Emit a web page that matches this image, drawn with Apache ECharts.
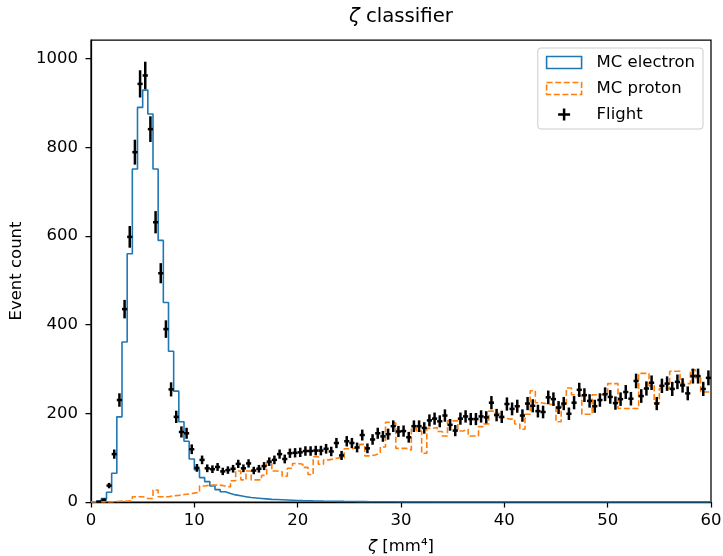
<!DOCTYPE html>
<html>
<head>
<meta charset="utf-8">
<script src="https://cdn.jsdelivr.net/npm/echarts@6/dist/echarts.min.js"></script>
<style>
html,body{margin:0;padding:0;background:#fff;}
#chart{width:723px;height:556px;}
</style>
</head>
<body>
<div id="chart"></div>
<script>
// Histogram binning (bin edges from 0 to 60, width 0.5)
const binStart = 0;
const binWidth = 0.5;
const xTicks = [0, 10, 20, 30, 40, 50, 60];
const yTicks = [0, 200, 400, 600, 800, 1000];

// MC electron counts per bin
const mcElectron = [
  0, 2, 8, 22, 65, 192, 361, 560, 751, 890,
  929, 875, 751, 590, 450, 340, 250, 181, 137, 97,
  73, 55, 46, 36, 28, 23, 19, 16, 14, 12,
  10, 9, 8, 7, 6, 5.5, 5, 4.5, 4, 3.5,
  3, 2.8, 2.5, 2.3, 2, 1.8, 1.6, 1.5, 1.3, 1.2,
  1, 0.9, 0.8, 0.7, 0.6, 0.5, 0.5, 0.4, 0.4, 0.3,
  0.3, 0.3, 0.2, 0.2, 0.2, 0.2, 0.1, 0.1, 0.1, 0.1,
  0.1, 0.1, 0.1, 0, 0, 0, 0, 0, 0, 0,
  0, 0, 0, 0, 0, 0, 0, 0, 0, 0,
  0, 0, 0, 0, 0, 0, 0, 0, 0, 0,
  0, 0, 0, 0, 0, 0, 0, 0, 0, 0,
  0, 0, 0, 0, 0, 0, 0, 0, 0, 0
];

// MC proton counts per bin
const mcProton = [
  0, 0, 0, 0, 1, 2, 2, 3, 12, 12,
  8, 8, 27, 12, 12, 14, 15, 17, 18, 20,
  22, 36, 38, 38, 38, 36, 34, 48, 70, 50,
  70, 50, 50, 60, 88, 70, 68, 58, 76, 87,
  85, 78, 62, 102, 85, 95, 97, 100, 99, 120,
  121, 125, 130, 104, 106, 110, 124, 180, 178, 121,
  121, 117, 166, 160, 110, 166, 168, 159, 149, 183,
  183, 160, 164, 149, 149, 170, 176, 205, 200, 190,
  187, 187, 176, 164, 198, 251, 224, 222, 220, 220,
  181, 218, 257, 242, 240, 198, 198, 242, 242, 242,
  267, 267, 211, 211, 211, 211, 290, 290, 262, 224,
  256, 256, 295, 295, 267, 267, 298, 280, 248, 248
];

// Flight data counts per bin
const flight = [
  0, 1, 5, 37, 108, 230, 435, 598, 789, 943,
  962, 841, 631, 516, 390, 254, 192, 158, 155, 119,
  77, 95, 76, 74, 79, 69, 72, 75, 86, 76,
  87, 71, 75, 81, 91, 95, 108, 97, 110, 111,
  112, 115, 115, 116, 116, 120, 114, 133, 105, 137,
  133, 123, 151, 121, 141, 155, 148, 153, 171, 159,
  160, 146, 171, 171, 167, 184, 188, 182, 195, 174,
  161, 188, 193, 187, 187, 193, 191, 224, 196, 192,
  221, 210, 216, 195, 222, 217, 205, 203, 236, 232,
  213, 222, 199, 224, 253, 241, 228, 216, 230, 243,
  237, 223, 232, 248, 233, 273, 239, 256, 269, 222,
  262, 267, 255, 271, 263, 245, 284, 284, 255, 280
];

const FONT = 'DejaVu Sans';
const FS = 16.5;

function stepData(vals) {
  const out = vals.map((v, i) => [binStart + i * binWidth, v]);
  out.push([binStart + vals.length * binWidth, vals[vals.length - 1]]);
  return out;
}
const flightData = flight.map((v, i) => [binStart + (i + 0.5) * binWidth, v, Math.sqrt(v)]);

const chart = echarts.init(document.getElementById('chart'), null, {renderer: 'canvas'});
const option = {
  animation: false,
  backgroundColor: '#fff',
  title: {
    text: '{z|ζ} classifier',
    left: 349,
    top: 7,
    padding: 0,
    textStyle: {
      fontFamily: FONT, fontSize: 19.7, fontWeight: 'normal', color: '#000',
      rich: { z: { fontFamily: FONT, fontSize: 19.7, fontStyle: 'italic', color: '#000' } }
    }
  },
  grid: {
    left: 91, right: 12, top: 40, bottom: 54,
    containLabel: false,
    outerBoundsMode: 'none',
    show: true, borderColor: '#000', borderWidth: 1.25, backgroundColor: 'transparent'
  },
  legend: {
    orient: 'vertical',
    right: 20,
    top: 48,
    padding: [6, 8, 6, 8],
    itemGap: 9,
    itemWidth: 35,
    itemHeight: 12,
    backgroundColor: 'rgba(255,255,255,0.8)',
    borderColor: '#cccccc',
    borderWidth: 1,
    borderRadius: 3,
    symbolKeepAspect: true,
    textStyle: { fontFamily: FONT, fontSize: FS, color: '#000', padding: [0, 0, 0, 10] },
    data: [
      { name: 'MC electron', icon: 'rect',
        itemStyle: { color: 'rgba(0,0,0,0)', borderColor: '#1f77b4', borderWidth: 1.6 } },
      { name: 'MC proton', icon: 'rect',
        itemStyle: { color: 'rgba(0,0,0,0)', borderColor: '#ff7f0e', borderWidth: 1.6, borderType: [6, 2.6] } },
      { name: 'Flight', icon: 'path://M7,0 L7,14 M0,7 L14,7',
        itemStyle: { color: '#000', borderColor: '#000', borderWidth: 2.5 } }
    ]
  },
  xAxis: {
    type: 'value', min: xTicks[0], max: xTicks[xTicks.length - 1], interval: 10,
    name: '{z|ζ} [mm⁴]',
    nameLocation: 'middle',
    nameGap: 36,
    nameTextStyle: {
      fontFamily: FONT, fontSize: FS, color: '#000',
      rich: { z: { fontFamily: FONT, fontSize: FS, fontStyle: 'italic', color: '#000' } }
    },
    axisLine: { show: true, onZero: false, lineStyle: { color: '#000', width: 1.25 } },
    axisTick: { show: true, inside: false, length: 5.5, lineStyle: { color: '#000', width: 1.25 }, customValues: xTicks },
    axisLabel: { color: '#000', fontFamily: FONT, fontSize: FS, margin: 10, customValues: xTicks,
      formatter: v => String(v) },
    splitLine: { show: false }
  },
  yAxis: {
    type: 'value', min: 0, max: 1042, interval: 200,
    name: 'Event count',
    nameLocation: 'middle',
    nameGap: 62,
    nameRotate: 90,
    nameTextStyle: { fontFamily: FONT, fontSize: FS, color: '#000' },
    axisLine: { show: true, onZero: false, lineStyle: { color: '#000', width: 1.25 } },
    axisTick: { show: true, inside: false, length: 5.5, lineStyle: { color: '#000', width: 1.25 }, customValues: yTicks },
    axisLabel: { color: '#000', fontFamily: FONT, fontSize: FS, margin: 13, customValues: yTicks,
      formatter: v => String(v) },
    splitLine: { show: false }
  },
  series: [
    {
      name: 'MC electron', type: 'line', step: 'end', symbol: 'none',
      data: stepData(mcElectron),
      lineStyle: { color: '#1f77b4', width: 1.6 },
      itemStyle: { color: '#1f77b4' },
      z: 2
    },
    {
      name: 'MC proton', type: 'line', step: 'end', symbol: 'none',
      data: stepData(mcProton),
      lineStyle: { color: '#ff7f0e', width: 1.6, type: [6, 2.6] },
      itemStyle: { color: '#ff7f0e' },
      z: 3
    },
    {
      name: 'Flight', type: 'custom',
      data: flightData,
      encode: { x: 0, y: 1 },
      itemStyle: { color: '#000' },
      z: 5,
      renderItem: function (params, api) {
        const x = api.value(0), y = api.value(1), e = api.value(2);
        if (y <= 0) return null;
        const top = api.coord([x, y + e]);
        const bot = api.coord([x, Math.max(0, y - e)]);
        const l = api.coord([x - binWidth / 2, y]);
        const r = api.coord([x + binWidth / 2, y]);
        return {
          type: 'group',
          children: [
            { type: 'line', shape: { x1: top[0], y1: top[1], x2: bot[0], y2: bot[1] }, style: { stroke: '#000', lineWidth: 2.5 } },
            { type: 'line', shape: { x1: l[0], y1: l[1], x2: r[0], y2: r[1] }, style: { stroke: '#000', lineWidth: 2.5 } }
          ]
        };
      }
    }
  ]
};
chart.setOption(option);
</script>
</body>
</html>
